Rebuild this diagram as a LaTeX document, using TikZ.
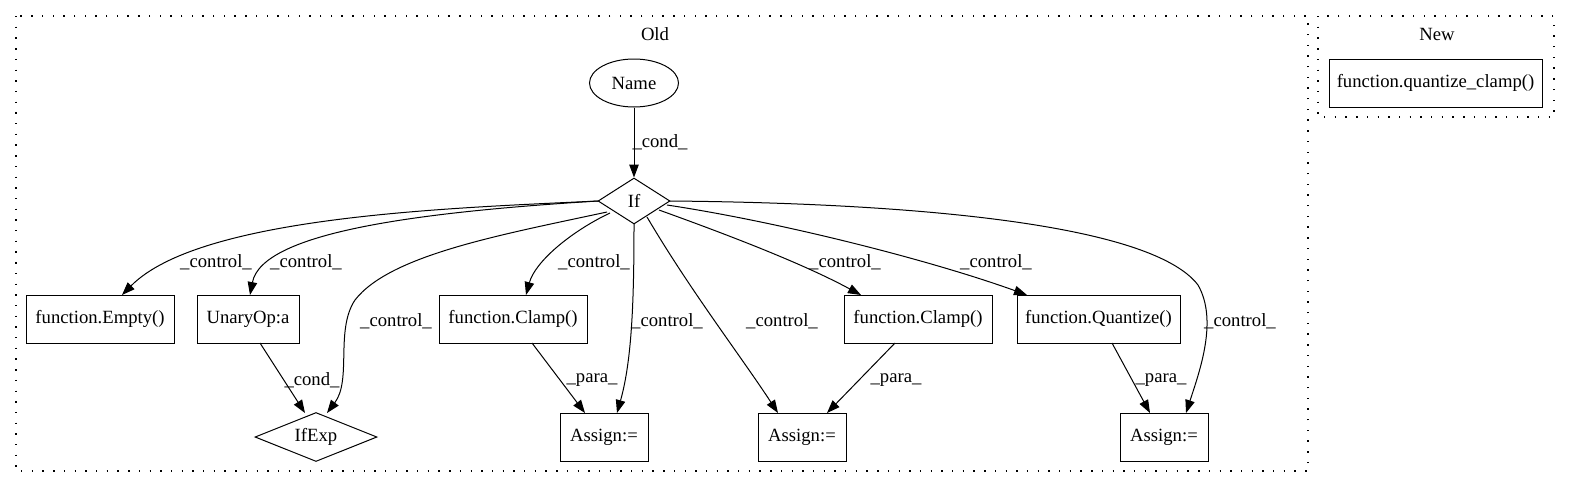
\documentclass[tikz,border=0pt]{standalone}
\usepackage{fontspec}
\setmainfont{Liberation Serif}
\usetikzlibrary{shapes.geometric,arrows.meta}
\begin{document}
\begin{tikzpicture}[x=1pt,y=-1pt,
  every node/.style={font=\fontsize{18.67}{21}\selectfont},
  box/.style={draw, line width=1pt, rectangle, minimum height=48pt, inner sep=0pt},
  dia/.style={draw, line width=1pt, diamond, inner sep=0pt},
  ell/.style={draw, line width=1pt, ellipse, minimum width=89pt, minimum height=48pt, inner sep=0pt},
  conn/.style={line width=1pt, -{Triangle[length=13pt,width=9.5pt]}},
  lbl/.style={inner sep=0pt},
  clus/.style={line width=1.4pt, dash pattern=on 1.4pt off 9.3pt}
]
\useasboundingbox (0,0) rectangle (1569,488);
% clusters
\draw[clus] (16,16) rectangle (1308,471);
\node[lbl] (oldlbl) at (655,34) {Old};
\draw[clus] (1318,16) rectangle (1554,117);
\node[lbl] (newlbl) at (1437,34) {New};
\node[box, minimum width=213pt] (qc) at (1435.5,83) {function.quantize\_clamp()};

% nodes
\node[ell] (name) at (634,83) {Name};
\node[dia, aspect=1.57, minimum width=72pt, minimum height=46pt] (if) at (634,201) {If};
\node[box, minimum width=148pt] (empty) at (100,319) {function.Empty()};
\node[box, minimum width=102pt] (unary) at (248,319) {UnaryOp:a};
\node[dia, aspect=2.5, minimum width=122pt, minimum height=49pt] (ifexp) at (316,437) {IfExp};
\node[box, minimum width=148pt] (clamp1) at (513,319) {function.Clamp()};
\node[box, minimum width=88pt] (as1) at (604,437) {Assign:=};
\node[box, minimum width=148pt] (clamp2) at (918,319) {function.Clamp()};
\node[box, minimum width=88pt] (as2) at (802,437) {Assign:=};
\node[box, minimum width=163pt] (quant) at (1098.5,319) {function.Quantize()};
\node[box, minimum width=88pt] (as3) at (1164,437) {Assign:=};

\coordinate (ifw) at (598,201);
\coordinate (ife) at (670,201);

% edges
\draw[conn] (name) -- (if);
\node[lbl] at (660,142) {\_cond\_};

\draw[conn] (ifw) .. controls (450,208) and (200,216) .. (122,295);
\node[lbl] at (216,262) {\_control\_};

\draw[conn] (ifw) .. controls (420,212) and (262,232) .. (250,295);
\node[lbl] at (306,262) {\_control\_};

\draw[conn] (607,212) .. controls (500,235) and (390,255) .. (355,300)
   .. controls (335,330) and (352,380) .. (327,413);
\node[lbl] at (396,321) {\_control\_};

\draw[conn] (260,343) -- (305,413);
\node[lbl] at (312,380) {\_cond\_};

\draw[conn] (610,213) .. controls (570,232) and (535,262) .. (526,295);
\node[lbl] at (594,262) {\_control\_};

\draw[conn] (634,224) .. controls (634,300) and (632,360) .. (617,413);
\node[lbl] at (667,321) {\_control\_};

\draw[conn] (532,343) -- (585,413);
\node[lbl] at (592,380) {\_para\_};

\draw[conn] (647,217) .. controls (690,290) and (740,355) .. (778,413);
\node[lbl] at (782,321) {\_control\_};

\draw[conn] (895,343) -- (827,413);
\node[lbl] at (896,380) {\_para\_};

\draw[conn] (659,210) .. controls (720,232) and (800,262) .. (861,295);
\node[lbl] at (845,262) {\_control\_};

\draw[conn] (667,205) .. controls (780,222) and (930,260) .. (1027,295);
\node[lbl] at (996,262) {\_control\_};

\draw[conn] (1112,343) -- (1150,413);
\node[lbl] at (1161,380) {\_para\_};

\draw[conn] (ife) .. controls (900,203) and (1150,222) .. (1198,285)
   .. controls (1218,320) and (1200,370) .. (1186,413);
\node[lbl] at (1240,321) {\_control\_};
\end{tikzpicture}
\end{document}
